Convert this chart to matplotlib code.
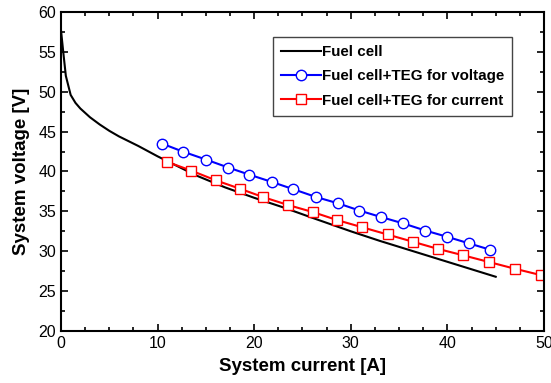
import matplotlib.pyplot as plt
from matplotlib.ticker import MultipleLocator

plt.rcParams['font.family'] = ['Liberation Sans', 'DejaVu Sans']

# Fuel cell polarization curve
fc_i = [0, 0.25, 0.5, 1, 1.5, 2, 3, 4, 5, 6, 8, 10, 12, 14, 17, 20, 23, 26, 30, 33, 37, 41, 45]
fc_v = [57.7, 54.8, 52.0, 49.6, 48.6, 47.9, 46.8, 45.9, 45.1, 44.4, 43.2, 41.9, 40.7, 39.5,
        38.0, 36.7, 35.5, 34.2, 32.5, 31.3, 29.8, 28.3, 26.8]

# Fuel cell + TEG for voltage
teg_v_i = [10.45, 12.6, 15.0, 17.3, 19.5, 21.8, 24.0, 26.4, 28.7, 30.9, 33.1, 35.4, 37.7, 40.0, 42.2, 44.4]
teg_v_v = [43.5, 42.5, 41.5, 40.5, 39.6, 38.7, 37.8, 36.8, 36.0, 35.1, 34.3, 33.5, 32.6, 31.8, 31.0, 30.2]

# Fuel cell + TEG for current
teg_c_i = [11.0, 13.5, 16.0, 18.5, 20.9, 23.5, 26.1, 28.6, 31.2, 33.8, 36.4, 39.0, 41.6, 44.3, 47.0, 49.7]
teg_c_v = [41.2, 40.1, 38.9, 37.85, 36.8, 35.8, 34.9, 33.9, 33.0, 32.1, 31.2, 30.3, 29.5, 28.65, 27.8, 27.0]

fig = plt.figure(figsize=(5.51, 3.83), dpi=100)
ax = fig.add_axes([0.1107, 0.1358, 0.8766, 0.8329])

ax.plot(fc_i, fc_v, color='black', lw=1.5, label='Fuel cell')
ax.plot(teg_v_i, teg_v_v, color='blue', lw=1.5, marker='o', ms=7.5, mfc='white', mec='blue',
        mew=1.0, label='Fuel cell+TEG for voltage')
ax.plot(teg_c_i, teg_c_v, color='red', lw=1.5, marker='s', ms=6.5, mfc='white', mec='red',
        mew=1.0, label='Fuel cell+TEG for current')

ax.set_xlim(0, 50)
ax.set_ylim(20, 60)
ax.xaxis.set_major_locator(MultipleLocator(10))
ax.xaxis.set_minor_locator(MultipleLocator(2.5))
ax.yaxis.set_major_locator(MultipleLocator(5))
ax.yaxis.set_minor_locator(MultipleLocator(2.5))
ax.tick_params(which='both', direction='in', top=True, right=True, labelsize=11.5, width=1.2)
ax.tick_params(which='major', length=5)
ax.tick_params(which='minor', length=3)
for s in ax.spines.values():
    s.set_linewidth(1.5)

ax.set_xlabel('System current [A]', fontsize=13.5, fontweight='bold', labelpad=5)
ax.set_ylabel('System voltage [V]', fontsize=13.5, fontweight='bold', labelpad=6)

leg = ax.legend(loc='upper right', bbox_to_anchor=(0.934, 0.922), prop={'weight': 'bold', 'size': 10.9},
                fancybox=False, framealpha=1, edgecolor='#444444', handlelength=2.6,
                handletextpad=0.05, borderpad=0.55, labelspacing=0.68, borderaxespad=0)
leg.get_frame().set_linewidth(1.0)

fig.savefig('out.png', dpi=100)
